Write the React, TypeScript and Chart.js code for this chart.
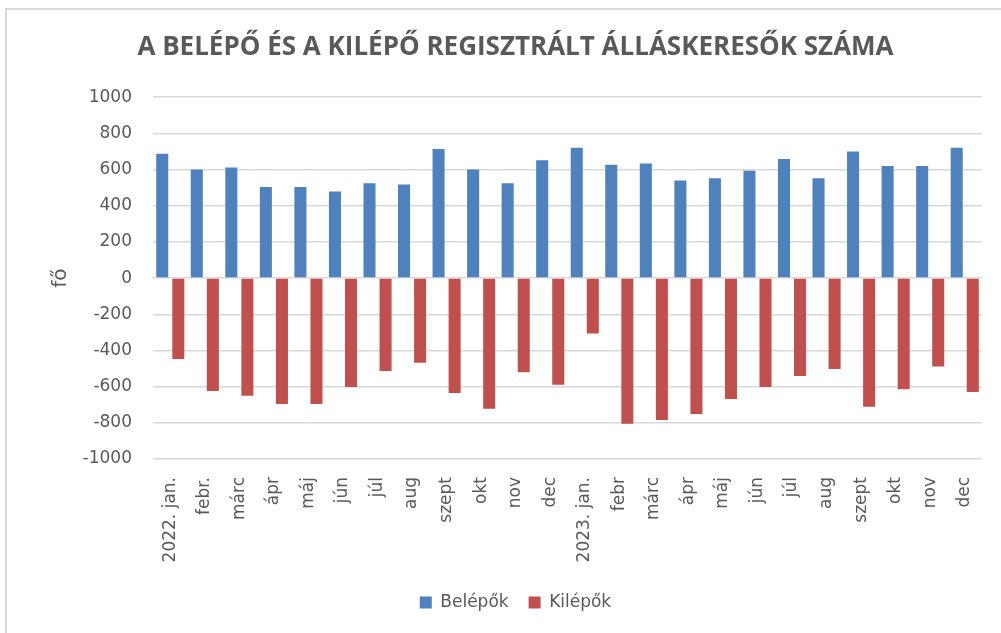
import React, { useEffect, useRef } from "react";
import { Chart, registerables } from "chart.js";

Chart.register(...registerables);

const categories = [
  "2022. jan.", "febr.", "márc", "ápr", "máj", "jún", "júl", "aug", "szept", "okt", "nov", "dec",
  "2023. jan.", "febr", "márc", "ápr", "máj", "jún", "júl", "aug", "szept", "okt", "nov", "dec",
];

const belepok = [
  687, 600, 612, 504, 504, 479, 525, 517, 713, 600, 525, 652,
  720, 626, 634, 540, 552, 593, 659, 552, 700, 619, 619, 720,
];

const kilepok = [
  -447, -624, -650, -696, -696, -602, -514, -468, -635, -722, -521, -590,
  -306, -805, -785, -751, -669, -602, -541, -503, -711, -615, -488, -630,
];

const yTicks = [1000, 800, 600, 400, 200, 0, -200, -400, -600, -800, -1000];

const titleText = "A BELÉPŐ ÉS A KILÉPŐ REGISZTRÁLT ÁLLÁSKERESŐK SZÁMA";
const yTitle = "fő";
const seriesNames = ["Belépők", "Kilépők"];

export default function App() {
  const ref = useRef<HTMLCanvasElement | null>(null);

  useEffect(() => {
    if (!ref.current) return;
    const chart = new Chart(ref.current, {
      type: "bar",
      data: {
        labels: categories,
        datasets: [
          {
            label: seriesNames[0],
            data: belepok,
            backgroundColor: "#4F81BD",
            borderWidth: 0,
            categoryPercentage: 0.93,
            barPercentage: 0.75,
          },
          {
            label: seriesNames[1],
            data: kilepok,
            backgroundColor: "#C0504D",
            borderWidth: 0,
            categoryPercentage: 0.93,
            barPercentage: 0.75,
          },
        ],
      },
      options: {
        animation: false,
        responsive: false,
        maintainAspectRatio: false,
        layout: { padding: { left: 49, right: 19, top: 8, bottom: 12 } },
        plugins: {
          title: {
            display: true,
            text: titleText,
            color: "#595959",
            font: { family: "'Open Sans'", size: 26, weight: "bold", lineHeight: 1.2 },
            padding: { top: 24, bottom: 34 },
          },
          legend: {
            display: true,
            position: "bottom",
            labels: {
              boxWidth: 12,
              boxHeight: 12,
              color: "#595959",
              font: { family: "'DejaVu Sans'", size: 17 },
              padding: 20,
            },
          },
          tooltip: { enabled: false },
        },
        scales: {
          x: {
            grid: { display: false },
            border: { display: false },
            ticks: {
              color: "#595959",
              font: { family: "'DejaVu Sans'", size: 17 },
              maxRotation: 90,
              minRotation: 90,
              autoSkip: false,
              padding: 10,
            },
            afterFit: (s: any) => {
              s.height = 115;
            },
          },
          y: {
            min: -1000,
            max: 1000,
            afterBuildTicks: (s: any) => {
              s.ticks = yTicks.map((v) => ({ value: v }));
            },
            grid: { color: "#D9D9D9", lineWidth: 1.5, drawTicks: false },
            border: { display: false },
            ticks: {
              color: "#595959",
              font: { family: "'DejaVu Sans'", size: 17 },
              padding: 21,
              callback: (v: any) => String(v),
            },
            title: {
              display: true,
              text: yTitle,
              color: "#595959",
              font: { family: "'DejaVu Sans'", size: 20 },
              padding: 0,
            },
            afterFit: (s: any) => {
              s.width = 104;
            },
          },
        },
      },
    });
    return () => chart.destroy();
  }, []);

  return (
    <div style={{ position: "fixed", left: 0, top: 0, width: 1001, height: 633, background: "#fff", overflow: "hidden" }}>
      <div
        style={{
          position: "absolute",
          left: 5,
          top: 8,
          width: 1100,
          height: 700,
          border: "2px solid #D9D9D9",
        }}
      />
      <canvas ref={ref} width={1001} height={633} style={{ position: "absolute", left: 0, top: 0 }} />
    </div>
  );
}
